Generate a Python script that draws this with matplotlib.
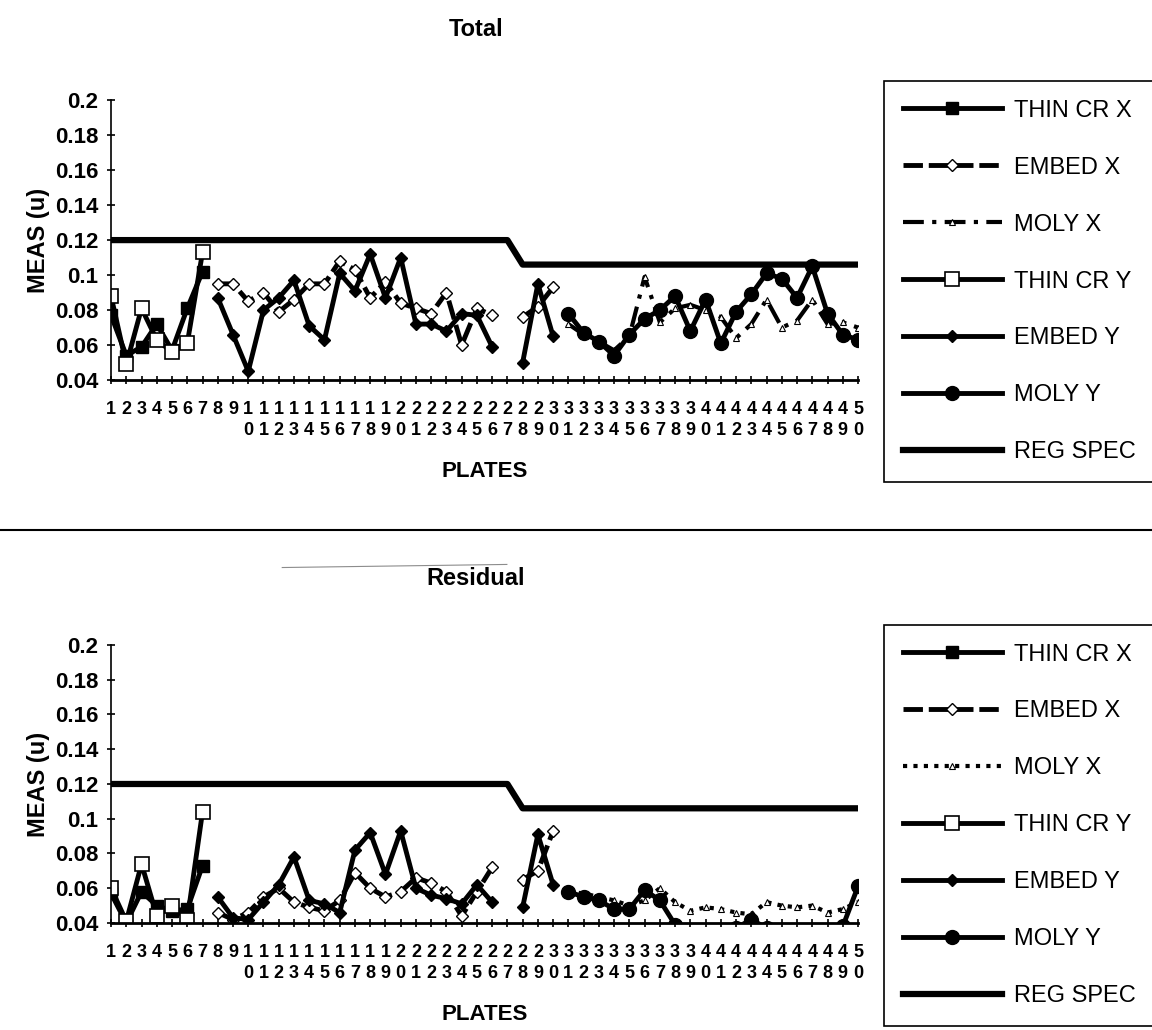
import numpy as np
import matplotlib.pyplot as plt
from matplotlib.lines import Line2D

plt.rcParams["font.family"] = ["Liberation Sans", "DejaVu Sans"]

nan = np.nan
plates = np.arange(1, 51)
tick_labels = ["\n".join(str(p)) for p in plates]

# --- Total (values read per plate; NaN = no reading) ---
tot_thin_cr_x = [0.077, 0.054, 0.059, 0.072, 0.057, 0.081, 0.102]
tot_thin_cr_y = [0.088, 0.049, 0.081, 0.063, 0.056, 0.061, 0.113]
tot_embed_x = [0.095, 0.095, 0.085, 0.090, 0.079, 0.086, 0.095, 0.095, 0.108, 0.103,
               0.087, 0.096, 0.084, 0.081, 0.078, 0.090, 0.060, 0.081, 0.077, nan,
               0.076, 0.082, 0.093]
tot_embed_y = [0.087, 0.066, 0.045, 0.080, 0.087, 0.097, 0.071, 0.063, 0.101, 0.091,
               0.112, 0.087, 0.110, 0.072, 0.072, 0.068, 0.078, 0.077, 0.059, nan,
               0.050, 0.095, 0.065]
tot_moly_x = [0.072, 0.066, 0.062, 0.057, 0.065, 0.099, 0.073, 0.081, 0.083, 0.080,
              0.076, 0.064, 0.072, 0.086, 0.070, 0.074, 0.086, 0.072, 0.073, 0.070]
tot_moly_y = [0.078, 0.067, 0.062, 0.054, 0.066, 0.075, 0.080, 0.088, 0.068, 0.086,
              0.061, 0.079, 0.089, 0.101, 0.098, 0.087, 0.105, 0.078, 0.066, 0.063]

# --- Residual ---
res_thin_cr_x = [0.057, 0.040, 0.058, 0.050, 0.047, 0.048, 0.073]
res_thin_cr_y = [0.060, 0.041, 0.074, 0.044, 0.050, 0.042, 0.104]
res_embed_x = [0.046, 0.042, 0.046, 0.055, 0.060, 0.052, 0.049, 0.047, 0.053, 0.069,
               0.060, 0.055, 0.058, 0.066, 0.063, 0.058, 0.044, 0.058, 0.072, nan,
               0.065, 0.070, 0.093]
res_embed_y = [0.055, 0.043, 0.042, 0.052, 0.062, 0.078, 0.053, 0.051, 0.046, 0.082,
               0.092, 0.068, 0.093, 0.060, 0.056, 0.054, 0.051, 0.062, 0.052, nan,
               0.049, 0.091, 0.062]
res_moly_x = [0.058, 0.057, 0.055, 0.053, 0.050, 0.053, 0.060, 0.052, 0.047, 0.049,
              0.048, 0.046, 0.045, 0.052, 0.050, 0.049, 0.050, 0.046, 0.048, 0.052]
res_moly_y = [0.058, 0.055, 0.053, 0.048, 0.048, 0.059, 0.053, 0.039, 0.036, 0.034,
              0.035, 0.037, 0.042, 0.037, 0.036, 0.034, 0.036, 0.033, 0.038, 0.061]

reg_spec = [0.12] * 27 + [0.106] * 23

# first plate of each group
first_thin, first_embed, first_moly = 1, 8, 31

labels = ["THIN CR X", "EMBED X", "MOLY X", "THIN CR Y", "EMBED Y", "MOLY Y", "REG SPEC"]


def place(values, first):
    out = np.full(len(plates), np.nan)
    out[first - 1:first - 1 + len(values)] = values
    return out


def draw_panel(ax, series, moly_x_ls):
    thin_x, thin_y, emb_x, emb_y, mol_x, mol_y = series
    k = dict(color="black", lw=3.5)
    ax.plot(plates, place(thin_x, first_thin), marker="s", ms=9, mfc="black", **k)
    ax.plot(plates, place(emb_x, first_embed), ls=(0, (4, 1.2)), marker="D", ms=6.5,
            mfc="white", mew=1, **k)
    ax.plot(plates, place(mol_x, first_moly), color="black", lw=3, ls=moly_x_ls,
            marker="^", ms=4, mfc="white", mew=0.8)
    ax.plot(plates, place(thin_y, first_thin), marker="s", ms=10, mfc="white", mew=1.2, **k)
    ax.plot(plates, place(emb_y, first_embed), marker="D", ms=6.5, mfc="black", **k)
    ax.plot(plates, place(mol_y, first_moly), marker="o", ms=10, mfc="black", **k)
    ax.plot(plates, reg_spec, color="black", lw=4.5)

    ax.set_xlim(1, 50)
    ax.set_ylim(0.04, 0.2)
    yt = np.round(np.arange(0.04, 0.201, 0.02), 2)
    ax.set_yticks(yt)
    ax.set_yticklabels([f"{v:g}" for v in yt], fontsize=16, fontweight="bold")
    ax.set_xticks(plates)
    ax.set_xticklabels(tick_labels, fontsize=13, fontweight="bold", linespacing=1.3)
    ax.tick_params(direction="inout", length=6, width=1.2)
    ax.tick_params(axis="x", pad=12)
    ax.tick_params(axis="y", pad=6)
    for s in ["top", "right"]:
        ax.spines[s].set_visible(False)
    ax.spines["left"].set_linewidth(1.2)
    ax.spines["bottom"].set_linewidth(2)
    ax.set_ylabel("MEAS (u)", fontsize=17, fontweight="bold", labelpad=4)
    ax.set_xlabel("PLATES", fontsize=16, fontweight="bold", labelpad=16)
    return ax.get_lines()


fig = plt.figure(figsize=(11.52, 10.30), dpi=100)

ax1 = fig.add_axes([0.0964, 0.631, 0.6484, 0.2718])
lines1 = draw_panel(ax1, [tot_thin_cr_x, tot_thin_cr_y, tot_embed_x, tot_embed_y,
                          tot_moly_x, tot_moly_y], (0, (5, 2, 1, 2)))
ax2 = fig.add_axes([0.0964, 0.1039, 0.6484, 0.2699])
lines2 = draw_panel(ax2, [res_thin_cr_x, res_thin_cr_y, res_embed_x, res_embed_y,
                          res_moly_x, res_moly_y], (0, (1, 1.5)))

fig.text(0.413, 0.971, "Total", ha="center", va="center", fontsize=17, fontweight="bold")
fig.text(0.413, 0.438, "Residual", ha="center", va="center", fontsize=17, fontweight="bold")

# divider between the two charts, plus the faint scan streak above "Residual"
fig.add_artist(Line2D([0, 1], [0.485, 0.485], transform=fig.transFigure, color="black", lw=1.5))
fig.add_artist(Line2D([0.245, 0.44], [0.449, 0.452], transform=fig.transFigure,
                      color="0.55", lw=0.8))

for lines, top in [(lines1, 0.933), (lines2, 0.405)]:
    leg = fig.legend(lines, labels, loc="upper left", bbox_to_anchor=(0.757, top),
                     fontsize=17, handlelength=4.2, handletextpad=0.5, labelspacing=1.48,
                     borderpad=0.8, fancybox=False, edgecolor="black", framealpha=1)
    leg.get_frame().set_linewidth(1.2)

fig.savefig("out.png", dpi=100)
